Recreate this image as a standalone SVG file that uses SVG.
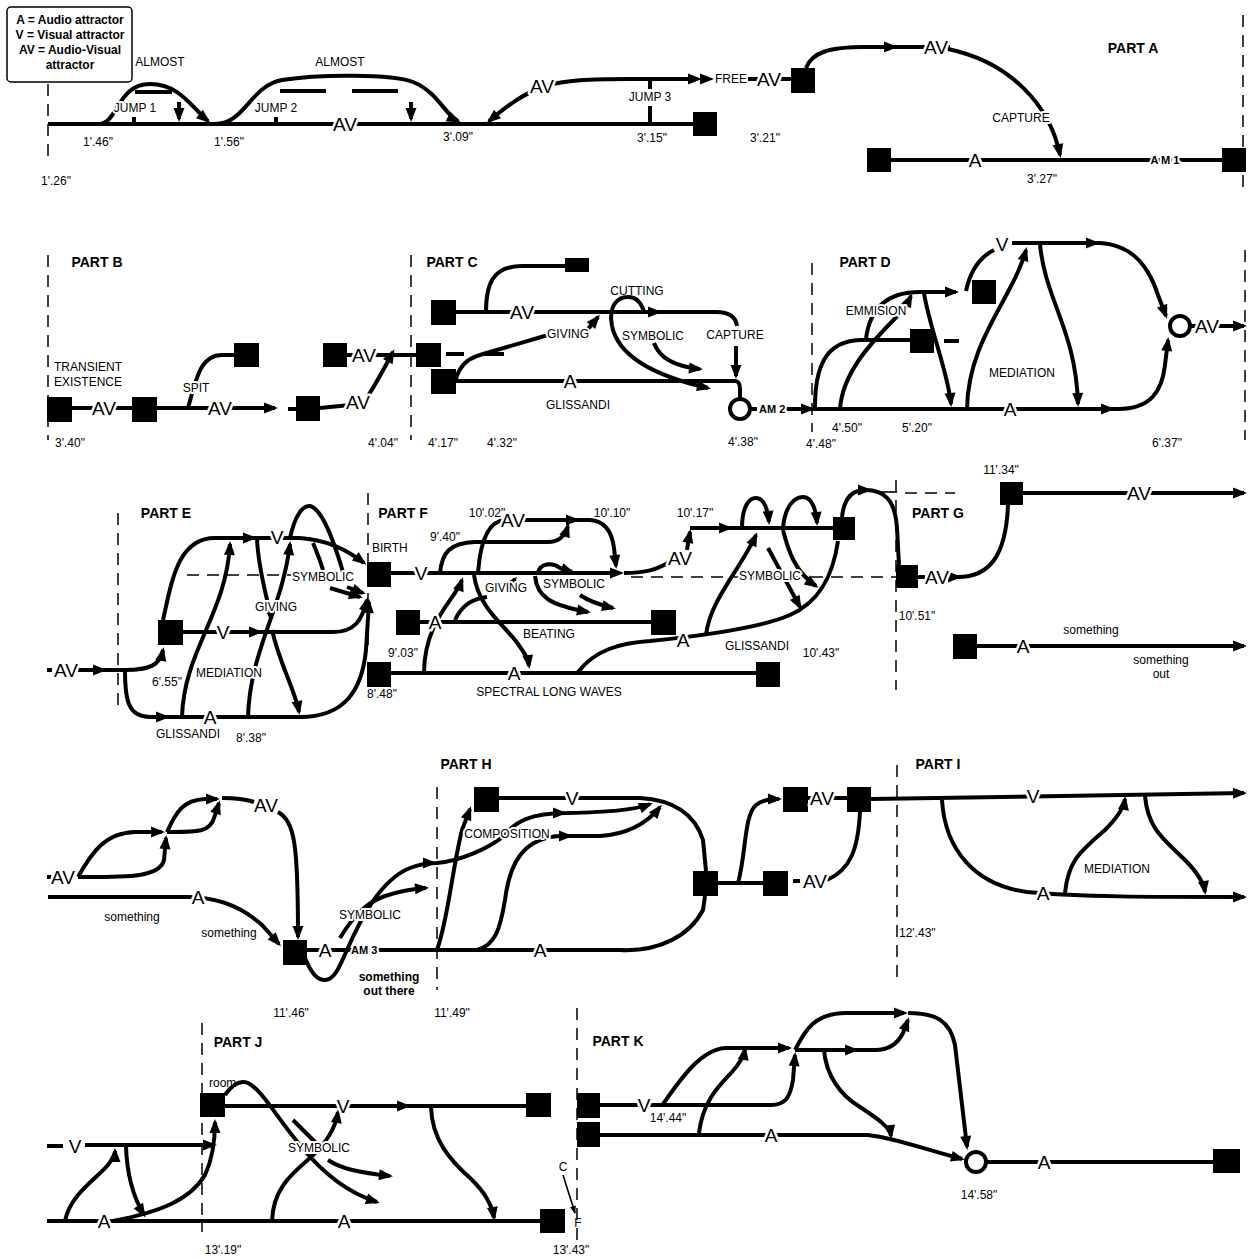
<svg xmlns="http://www.w3.org/2000/svg" width="1250" height="1258" viewBox="0 0 1250 1258">
<style>
.l{fill:none;stroke:#000;stroke-width:4}
.a{marker-end:url(#ah)}
.th{fill:none;stroke:#000;stroke-width:1.6}
.d{fill:none;stroke:#000;stroke-width:1.5;stroke-dasharray:12,8}
.nd rect{fill:#000}
.nd circle{fill:#fff;stroke:#000;stroke-width:4}
text{font-family:"Liberation Sans",Arial,Helvetica,sans-serif;font-size:12px;fill:#000;text-anchor:middle}
.s{text-anchor:start}
.b{font-weight:bold}
.p{font-weight:bold;font-size:14px}
.am{font-weight:bold;font-size:11px;paint-order:stroke;stroke:#fff;stroke-width:4px}
.g{font-size:19px;paint-order:stroke;stroke:#fff;stroke-width:5px;stroke-linejoin:round}
.h{paint-order:stroke;stroke:#fff;stroke-width:4px;stroke-linejoin:round}
</style>
<defs>
<marker id="ah" markerUnits="userSpaceOnUse" markerWidth="16" markerHeight="14" viewBox="-15 -7 16 14" refX="-3" refY="0" orient="auto"><path d="M-14,-5.5 L0,0 L-14,5.5 z"/></marker>
<marker id="as" markerUnits="userSpaceOnUse" markerWidth="10" markerHeight="8" viewBox="-9 -4 10 8" refX="-1" refY="0" orient="auto"><path d="M-8,-3 L0,0 L-8,3 z"/></marker>
<path id="tri" d="M-14,-5.5 L0,0 L-14,5.5 z"/>
</defs>

<g id="legend">
<rect x="7" y="7" width="125" height="75" rx="4" fill="#fff" stroke="#000" stroke-width="1.5"/>
<text class="b" x="70" y="24">A = Audio attractor</text>
<text class="b" x="70" y="39">V = Visual attractor</text>
<text class="b" x="70" y="54">AV = Audio-Visual</text>
<text class="b" x="70" y="69">attractor</text>
</g>

<g id="part-dividers">
<path class="d" d="M48,84 V158 M1243,15 V190 M48,255 V440 M411,255 V440 M812,263 V432 M1245,250 V440 M118,513 V710 M368,493 V650 M896,480 V690 M437,787 V990 M897,765 V985 M202,1023 V1232 M577,1008 V1240"/>
<path class="d" d="M187,575 H292 M631,577 H896 M905,493 H955"/>
</g>

<g id="connectors">
<!-- Part A -->
<path class="l" d="M48,124 H693"/>
<path class="l" d="M134,117 V124 M276,117 V124"/>
<path class="l a" d="M100,124 C118,122 118,84 150,84 C180,84 192,108 208,121"/>
<path class="l" d="M135,92 H172 M280,91 H326 M352,91 H398"/>
<path class="l a" d="M179,102 V119"/>
<path class="l a" d="M411,102 V119"/>
<path class="l a" d="M215,124 C245,124 250,86 282,80 C320,74 392,74 413,82 C438,92 445,115 458,121"/>
<path class="l a" d="M688,79 H630 C590,79 565,80 545,86 C520,95 505,108 489,121"/>
<use href="#tri" transform="translate(702,79)"/>
<use href="#tri" transform="translate(714,79)"/>
<path class="l" d="M650,80 V89 M650,106 V124"/>
<path class="l" d="M748,79 H791"/>
<path class="l" d="M806,68 C812,52 830,47 865,47 H950"/>
<use href="#tri" transform="translate(898,47)"/>
<path class="l a" d="M948,49 C1010,62 1050,105 1060,155"/>
<path class="l" d="M891,160 H1222"/>
<!-- Part B -->
<path class="l" d="M72,408 H132"/>
<path class="l a" d="M157,408 H275"/>
<path class="l" d="M188,408 C196,380 200,355 222,355 H234"/>
<path class="l" d="M288,409 H296"/>
<path class="l" d="M320,408 L350,405"/>
<path class="l a" d="M368,396 C378,380 386,365 393,352"/>
<path class="l" d="M347,355 H416"/>
<path class="l" d="M446,354 H464 M484,354 H504"/>
<!-- Part C -->
<path class="l" d="M456,312 H716 C730,312 736,318 737,326"/>
<path class="l" d="M486,312 C486,285 492,266 522,266 H565"/>
<path class="l" d="M455,382 C460,362 470,357 490,352 L548,335"/>
<path class="l a" d="M588,329 L598,317"/>
<path class="l" d="M456,381 H735 C739,381 740,384 740,390 V399"/>
<path class="l a" d="M736,346 V376"/>
<path class="l" d="M612,326 C608,305 618,297 628,297 C638,297 642,305 644,312"/>
<use href="#tri" transform="translate(662,312)"/>
<path class="l a" d="M612,326 C618,355 650,375 708,388"/>
<path class="l a" d="M654,343 C660,360 680,367 700,369"/>
<path class="l" d="M750,409 H757 M784,409 H805"/>
<!-- Part D -->
<path class="l a" d="M805,409 H1118 C1150,409 1162,392 1165,365 L1168,340"/>
<use href="#tri" transform="translate(815,409)"/>
<use href="#tri" transform="translate(1115,409)"/>
<path class="l a" d="M1012,243 H1100 C1135,245 1150,270 1158,295 L1166,316"/>
<use href="#tri" transform="translate(1100,243)"/>
<path class="l" d="M994,250 C978,258 970,272 966,291"/>
<path class="l" d="M1190,326 H1196"/>
<path class="l a" d="M1218,326 H1244"/>
<path class="l" d="M944,341 H959"/>
<path class="l" d="M815,407 C815,368 825,341 860,340 H910"/>
<path class="l a" d="M840,409 C843,365 885,330 905,308 L911,296"/>
<path class="l a" d="M866,339 C870,305 890,292 920,292 H956"/>
<path class="l a" d="M924,293 C930,330 948,372 951,404"/>
<path class="l a" d="M967,409 C968,340 1012,300 1026,250"/>
<path class="l a" d="M1040,244 C1045,300 1076,330 1078,404"/>
<!-- Part E -->
<path class="l" d="M47,670 H52"/>
<path class="l a" d="M78,670 H125 C150,670 160,665 163,650"/>
<use href="#tri" transform="translate(107,670)"/>
<path class="l a" d="M125,670 C125,700 128,717 150,717 H300 C345,717 362,690 366,650 L369,602"/>
<use href="#tri" transform="translate(170,717)"/>
<path class="l a" d="M163,620 C172,580 178,538 215,538 H300 C330,540 350,552 364,563"/>
<use href="#tri" transform="translate(257,538)"/>
<path class="l a" d="M183,632 H333 C355,632 362,620 367,600"/>
<use href="#tri" transform="translate(263,632)"/>
<path class="l a" d="M182,717 C184,650 226,615 230,544"/>
<path class="l a" d="M257,538 C258,570 268,600 271,618"/>
<path class="l a" d="M248,717 C250,650 282,610 290,544"/>
<path class="l a" d="M272,630 C280,665 295,690 299,712"/>
<path class="l" d="M290,538 C295,515 303,505 310,506 C323,509 335,545 343,572"/>
<path class="l" d="M313,543 C318,555 321,563 323,570"/>
<path class="l a" d="M330,588 L360,597"/>
<path class="l a" d="M347,587 L363,593"/>
<!-- Part F -->
<path class="l" d="M391,573 H610"/>
<use href="#tri" transform="translate(624,573)"/>
<path class="l" d="M624,573 C645,573 655,570 668,563"/>
<path class="l a" d="M687,550 C688,543 689,537 690,532"/>
<path class="l" d="M690,528 H833"/>
<use href="#tri" transform="translate(733,528)"/>
<path class="l a" d="M478,573 C480,545 487,521 505,520 H590 C605,521 612,532 614,548 L616,566"/>
<use href="#tri" transform="translate(580,520)"/>
<path class="l a" d="M440,573 C442,552 450,543 475,542 H548 C560,542 565,535 568,526"/>
<path class="l a" d="M424,672 C425,620 455,600 462,580"/>
<path class="l" d="M455,620 C462,605 472,599 487,597"/>
<path class="l a" d="M474,575 C478,605 500,622 515,640 C524,652 528,658 529,666"/>
<path class="l a" d="M511,584 L515,579"/>
<path class="l a" d="M538,573 C540,563 552,562 560,568 L572,572"/>
<path class="l a" d="M535,576 C537,597 550,605 588,612"/>
<path class="l a" d="M580,595 C590,602 600,605 613,608"/>
<path class="l" d="M420,622 H651"/>
<path class="l" d="M391,673 H756"/>
<path class="l" d="M578,672 C595,650 620,643 650,641 C700,636 760,628 790,615 C820,602 833,575 838,541"/>
<path class="l a" d="M706,635 C710,600 740,570 756,535"/>
<path class="l a" d="M742,528 C742,505 750,498 756,498 C764,498 768,510 769,522"/>
<path class="l a" d="M783,528 C785,505 795,497 803,497 C812,497 816,510 817,523"/>
<path class="l" d="M842,517 C844,498 852,490 865,490 C885,490 895,500 897,528 L899,565"/>
<use href="#tri" transform="translate(872,490)"/>
<path class="th" d="M880,492 H897"/>
<path class="l a" d="M768,548 L800,607"/>
<path class="l a" d="M783,530 C788,550 795,572 816,586"/>
<!-- Part G -->
<path class="l" d="M918,577 H925"/>
<path class="l a" d="M948,577 H959"/>
<path class="l" d="M958,577 C990,577 1006,555 1008,505"/>
<path class="l a" d="M1023,493 H1244"/>
<path class="l a" d="M977,646 H1244"/>
<!-- Row 4 left -->
<path class="l" d="M47,877 H51"/>
<path class="l a" d="M78,877 C92,852 105,833 135,832 H162"/>
<path class="l a" d="M78,877 C125,877 160,878 164,860 L166,838"/>
<path class="l a" d="M167,832 C176,812 183,800 205,799 H217"/>
<path class="l a" d="M167,832 C195,832 210,833 214,818 L219,803"/>
<path class="l" d="M222,798 C235,798 245,799 254,802"/>
<path class="l a" d="M278,812 C295,822 298,845 298,937"/>
<path class="l a" d="M48,897 H187 C215,897 240,905 262,925 L279,944"/>
<path class="l" d="M307,950 H620 C660,952 690,935 703,910 L705,896"/>
<path class="l a" d="M305,958 C312,975 318,980 325,980 C335,980 340,965 347,950 C360,920 380,880 410,868 C420,864 428,863 437,863 C460,861 490,848 505,835 C515,822 530,813 567,813 C610,812 635,810 650,804"/>
<use href="#tri" transform="translate(437,863)"/>
<use href="#tri" transform="translate(567,813)"/>
<path class="l a" d="M340,938 C352,918 365,903 385,896 C400,891 412,889 426,888"/>
<!-- Part H -->
<path class="l a" d="M477,950 C495,945 500,930 505,900 C510,860 525,838 560,836 H600 C630,834 648,822 660,807"/>
<use href="#tri" transform="translate(573,836)"/>
<path class="l a" d="M437,950 C448,920 452,870 462,830 L470,809"/>
<path class="l" d="M499,798 H640 C675,800 695,815 703,840 L706,871"/>
<path class="l" d="M718,883 H763"/>
<path class="l a" d="M738,883 C746,855 744,815 756,805 C762,800 770,799 779,799"/>
<path class="l" d="M808,798 H847"/>
<path class="l" d="M793,881 H800"/>
<path class="l" d="M827,880 C850,870 858,850 860,812"/>
<!-- Part I -->
<path class="l a" d="M871,799 L1244,793"/>
<path class="l a" d="M942,800 C945,850 975,885 1027,892 C1080,897 1150,897 1244,897"/>
<path class="l a" d="M1065,893 C1068,860 1082,850 1105,830 C1120,815 1124,806 1125,799"/>
<path class="l a" d="M1145,796 C1148,830 1165,840 1185,860 C1200,875 1204,885 1205,892"/>
<!-- Part J -->
<path class="l" d="M47,1146 H63"/>
<path class="l a" d="M85,1145 H214"/>
<path class="l" d="M47,1221 H540"/>
<path class="l a" d="M65,1221 C70,1195 95,1180 108,1165 C113,1158 115,1155 115,1151"/>
<path class="l a" d="M126,1146 C127,1180 135,1200 144,1215"/>
<path class="l a" d="M113,1221 C160,1212 190,1200 205,1175 C212,1160 215,1140 215,1122"/>
<path class="l" d="M225,1106 H526"/>
<use href="#tri" transform="translate(411,1106)"/>
<path class="l a" d="M225,1095 C232,1085 240,1080 248,1083 C262,1090 275,1115 300,1145 C320,1170 345,1192 377,1202"/>
<path class="l" d="M293,1120 L316,1143"/>
<path class="l a" d="M328,1160 C340,1168 355,1172 390,1176"/>
<path class="l a" d="M272,1221 C273,1190 290,1175 310,1158 C330,1140 336,1125 338,1112"/>
<path class="l a" d="M431,1107 C432,1140 450,1160 470,1178 C485,1192 492,1205 494,1218"/>
<path class="th" d="M563,1175 L575,1213" style="marker-end:url(#as)"/>
<!-- Part K -->
<path class="l a" d="M600,1105 H771 C785,1105 790,1098 793,1080 L795,1055"/>
<path class="l a" d="M600,1135 H868 C895,1138 920,1148 962,1159"/>
<path class="l" d="M987,1162 H1213"/>
<path class="l a" d="M663,1104 C680,1080 700,1050 725,1048 H789"/>
<path class="l a" d="M795,1050 H875 C890,1050 898,1043 903,1033 L908,1020"/>
<use href="#tri" transform="translate(859,1050)"/>
<path class="l a" d="M699,1133 C703,1100 720,1085 732,1072 C740,1063 744,1055 745,1049"/>
<path class="l" d="M795,1050 C805,1030 815,1013 846,1013 H904"/>
<use href="#tri" transform="translate(908,1013)"/>
<path class="l a" d="M908,1013 C935,1013 950,1020 955,1045 L967,1147"/>
<path class="l a" d="M824,1050 C826,1075 840,1095 860,1107 C880,1120 890,1128 891,1136"/>
</g>

<g id="n-a1" class="nd"><rect x="693" y="112" width="24" height="24"/></g>
<g id="n-a2" class="nd"><rect x="791" y="68" width="24" height="25"/></g>
<g id="n-a3" class="nd"><rect x="867" y="148" width="24" height="24"/></g>
<g id="n-a4" class="nd"><rect x="1222" y="148" width="24" height="24"/></g>
<g id="n-b1" class="nd"><rect x="47" y="397" width="25" height="25"/></g>
<g id="n-b2" class="nd"><rect x="132" y="397" width="25" height="25"/></g>
<g id="n-b3" class="nd"><rect x="234" y="343" width="25" height="24"/></g>
<g id="n-b4" class="nd"><rect x="296" y="396" width="24" height="25"/></g>
<g id="n-b5" class="nd"><rect x="323" y="343" width="24" height="24"/></g>
<g id="n-c1" class="nd"><rect x="416" y="343" width="25" height="24"/></g>
<g id="n-c2" class="nd"><rect x="431" y="300" width="25" height="25"/></g>
<g id="n-c3" class="nd"><rect x="431" y="369" width="25" height="25"/></g>
<g id="n-c4" class="nd"><rect x="565" y="258" width="24" height="14"/></g>
<g id="n-am2" class="nd"><circle cx="740" cy="409" r="10"/></g>
<g id="n-d1" class="nd"><rect x="972" y="280" width="24" height="24"/></g>
<g id="n-d2" class="nd"><rect x="910" y="329" width="24" height="24"/></g>
<g id="n-d3" class="nd"><circle cx="1180" cy="326" r="10"/></g>
<g id="n-e1" class="nd"><rect x="158" y="620" width="25" height="25"/></g>
<g id="n-birth" class="nd"><rect x="367" y="562" width="24" height="25"/></g>
<g id="n-f2" class="nd"><rect x="396" y="610" width="24" height="25"/></g>
<g id="n-f3" class="nd"><rect x="651" y="610" width="25" height="25"/></g>
<g id="n-f4" class="nd"><rect x="367" y="662" width="24" height="25"/></g>
<g id="n-f5" class="nd"><rect x="833" y="517" width="22" height="23"/></g>
<g id="n-f6" class="nd"><rect x="756" y="662" width="24" height="25"/></g>
<g id="n-g1" class="nd"><rect x="896" y="565" width="22" height="23"/></g>
<g id="n-g2" class="nd"><rect x="1000" y="482" width="23" height="23"/></g>
<g id="n-g3" class="nd"><rect x="953" y="634" width="24" height="25"/></g>
<g id="n-am3" class="nd"><rect x="283" y="940" width="24" height="25"/></g>
<g id="n-h1" class="nd"><rect x="474" y="787" width="25" height="25"/></g>
<g id="n-h2" class="nd"><rect x="693" y="871" width="25" height="25"/></g>
<g id="n-h3" class="nd"><rect x="763" y="871" width="25" height="25"/></g>
<g id="n-h4" class="nd"><rect x="783" y="787" width="25" height="25"/></g>
<g id="n-h5" class="nd"><rect x="847" y="787" width="24" height="25"/></g>
<g id="n-j1" class="nd"><rect x="200" y="1093" width="25" height="24"/></g>
<g id="n-j2" class="nd"><rect x="526" y="1093" width="25" height="24"/></g>
<g id="n-j3" class="nd"><rect x="540" y="1209" width="25" height="24"/></g>
<g id="n-k1" class="nd"><rect x="577" y="1093" width="23" height="25"/></g>
<g id="n-k2" class="nd"><rect x="577" y="1122" width="23" height="25"/></g>
<g id="n-k3" class="nd"><circle cx="976" cy="1162" r="10"/></g>
<g id="n-k4" class="nd"><rect x="1213" y="1149" width="27" height="24"/></g>

<g id="labels">
<!-- Part A -->
<text class="p" x="1133" y="53">PART A</text>
<text x="160" y="66">ALMOST</text>
<text x="340" y="66">ALMOST</text>
<text class="h" x="135" y="112">JUMP 1</text>
<text class="h" x="276" y="112">JUMP 2</text>
<text x="650" y="101">JUMP 3</text>
<text x="98" y="146">1'.46"</text>
<text x="229" y="146">1'.56"</text>
<text x="458" y="141">3'.09"</text>
<text x="652" y="142">3'.15"</text>
<text x="765" y="142">3'.21"</text>
<text x="56" y="185">1'.26"</text>
<text x="1042" y="183">3'.27"</text>
<text class="s" x="715" y="83">FREE</text>
<text class="h" x="1021" y="122">CAPTURE</text>
<text class="am" x="1165" y="164">A M 1</text>
<text class="g" x="345" y="131">AV</text>
<text class="g" x="542" y="93">AV</text>
<text class="g" x="769" y="86">AV</text>
<text class="g" x="936" y="54">AV</text>
<text class="g" x="975" y="167">A</text>
<!-- Part B / C / D -->
<text class="p" x="97" y="267">PART B</text>
<text class="p" x="452" y="267">PART C</text>
<text class="p" x="865" y="267">PART D</text>
<text class="s" x="54" y="371">TRANSIENT</text>
<text class="s" x="54" y="386">EXISTENCE</text>
<text class="h" x="196" y="392">SPIT</text>
<text x="70" y="447">3'.40"</text>
<text x="383" y="447">4'.04"</text>
<text x="443" y="447">4'.17"</text>
<text x="502" y="447">4'.32"</text>
<text x="743" y="446">4'.38"</text>
<text x="821" y="448">4'.48"</text>
<text x="847" y="432">4'.50"</text>
<text x="917" y="432">5'.20"</text>
<text x="1167" y="447">6'.37"</text>
<text class="h" x="568" y="338">GIVING</text>
<text x="578" y="409">GLISSANDI</text>
<text x="637" y="295">CUTTING</text>
<text class="h" x="653" y="340">SYMBOLIC</text>
<text x="735" y="339">CAPTURE</text>
<text class="am s" x="759" y="413">AM 2</text>
<text class="h" x="876" y="315">EMMISION</text>
<text x="1022" y="377">MEDIATION</text>
<text class="g" x="104" y="415">AV</text>
<text class="g" x="220" y="415">AV</text>
<text class="g" x="358" y="409">AV</text>
<text class="g" x="364" y="362">AV</text>
<text class="g" x="522" y="319">AV</text>
<text class="g" x="570" y="388">A</text>
<text class="g" x="1002" y="251">V</text>
<text class="g" x="1010" y="416">A</text>
<text class="g" x="1207" y="333">AV</text>
<!-- Part E / F / G -->
<text class="p" x="166" y="518">PART E</text>
<text class="p" x="403" y="518">PART F</text>
<text class="p" x="938" y="518">PART G</text>
<text class="s" x="372" y="552">BIRTH</text>
<text class="h" x="323" y="581">SYMBOLIC</text>
<text class="h" x="276" y="611">GIVING</text>
<text class="h" x="229" y="677">MEDIATION</text>
<text x="167" y="686">6'.55"</text>
<text x="188" y="738">GLISSANDI</text>
<text x="251" y="742">8'.38"</text>
<text x="445" y="541">9'.40"</text>
<text x="487" y="517">10'.02"</text>
<text x="612" y="517">10'.10"</text>
<text x="695" y="517">10'.17"</text>
<text x="403" y="657">9'.03"</text>
<text x="382" y="698">8'.48"</text>
<text class="h" x="506" y="592">GIVING</text>
<text class="h" x="574" y="588">SYMBOLIC</text>
<text x="549" y="638">BEATING</text>
<text x="549" y="696">SPECTRAL LONG WAVES</text>
<text class="h" x="770" y="580">SYMBOLIC</text>
<text x="757" y="650">GLISSANDI</text>
<text x="821" y="657">10'.43"</text>
<text x="1001" y="474">11'.34"</text>
<text x="917" y="620">10'.51"</text>
<text x="1091" y="634">something</text>
<text x="1161" y="664">something</text>
<text x="1161" y="678">out</text>
<text class="g" x="66" y="677">AV</text>
<text class="g" x="277" y="544">V</text>
<text class="g" x="223" y="639">V</text>
<text class="g" x="210" y="724">A</text>
<text class="g" x="421" y="580">V</text>
<text class="g" x="513" y="527">AV</text>
<text class="g" x="680" y="565">AV</text>
<text class="g" x="435" y="629">A</text>
<text class="g" x="514" y="680">A</text>
<text class="g" x="683" y="647">A</text>
<text class="g" x="937" y="584">AV</text>
<text class="g" x="1139" y="500">AV</text>
<text class="g" x="1023" y="653">A</text>
<!-- Part H / I -->
<text class="p" x="466" y="769">PART H</text>
<text class="p" x="938" y="769">PART I</text>
<text x="132" y="921">something</text>
<text x="229" y="937">something</text>
<text class="h" x="370" y="919">SYMBOLIC</text>
<text class="b" x="389" y="981">something</text>
<text class="b" x="389" y="995">out there</text>
<text x="291" y="1017">11'.46"</text>
<text x="452" y="1017">11'.49"</text>
<text class="h" x="507" y="838">COMPOSITION</text>
<text x="1117" y="873">MEDIATION</text>
<text class="s" x="899" y="937">12'.43"</text>
<text class="am s" x="351" y="954">AM 3</text>
<text class="g" x="63" y="884">AV</text>
<text class="g" x="266" y="812">AV</text>
<text class="g" x="198" y="904">A</text>
<text class="g" x="325" y="957">A</text>
<text class="g" x="540" y="957">A</text>
<text class="g" x="572" y="805">V</text>
<text class="g" x="822" y="805">AV</text>
<text class="g" x="815" y="888">AV</text>
<text class="g" x="1033" y="803">V</text>
<text class="g" x="1043" y="900">A</text>
<!-- Part J / K -->
<text class="p" x="238" y="1047">PART J</text>
<text class="p" x="618" y="1046">PART K</text>
<text class="s" x="209" y="1087">room</text>
<text class="h" x="319" y="1152">SYMBOLIC</text>
<text x="223" y="1254">13'.19"</text>
<text x="571" y="1254">13'.43"</text>
<text x="563" y="1171">C</text>
<text x="578" y="1227">F</text>
<text x="668" y="1122">14'.44"</text>
<text x="979" y="1199">14'.58"</text>
<text class="g" x="75" y="1153">V</text>
<text class="g" x="104" y="1228">A</text>
<text class="g" x="343" y="1113">V</text>
<text class="g" x="344" y="1228">A</text>
<text class="g" x="644" y="1112">V</text>
<text class="g" x="771" y="1142">A</text>
<text class="g" x="1044" y="1169">A</text>
</g>
</svg>
